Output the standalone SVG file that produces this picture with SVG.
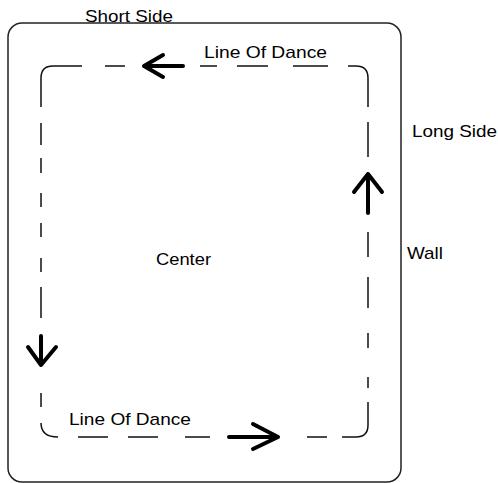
<svg xmlns="http://www.w3.org/2000/svg" width="498" height="483" viewBox="0 0 498 483">
  <style>
    .wall { fill: none; stroke: #222; stroke-width: 1.5; }
    .track { fill: none; stroke: #111; stroke-width: 1.5; stroke-linecap: butt; }
    .arrow { fill: none; stroke: #000; stroke-width: 4; stroke-linecap: round; stroke-linejoin: round; }
    .lbl { font-family: "Liberation Sans", Arial, sans-serif; font-size: 17px; fill: #000; }
  </style>
  <rect width="498" height="483" fill="#fff"/>
  <g id="wall">
    <rect class="wall" x="8" y="23" width="393" height="459" rx="14" ry="14"/>
  </g>
  <g id="track">
    <path class="track" d="M41,107 V78 Q41,66 53,66 H82 M105,66 H125 M200,66 H217 M237,66 H268 M293,66 H328 M348,66 H356 Q368,66 368,78 V107 M368,122 V157 M368,232 V257 M368,277 V308 M368,333 V348 M368,377 V388 M368,402 V425 Q368,437 356,437 H342 M327,437 H307 M210,437 H185 M158,437 H128 M108,437 H78 M58,437 Q41,437 41,423 M41,407 V393 M41,318 V287 M41,272 V258 M41,237 V223 M41,207 V193 M41,173 V158 M41,145 V123"/>
  </g>
  <g id="arrows">
    <g id="arrow-top"><path class="arrow" d="M183,66 H145 M163,55 L144,66 L163,77"/></g>
    <g id="arrow-right"><path class="arrow" d="M368,213 V174 M354,192 L368,174 L382,192"/></g>
    <g id="arrow-left"><path class="arrow" d="M41,336 V365 M28,347 L41,365 L56,347"/></g>
    <g id="arrow-bottom"><path class="arrow" d="M229,437 H278 M253,424 L278,437 L253,449"/></g>
  </g>
  <g id="labels">
    <text id="short-side" class="lbl" x="85" y="22" textLength="88" lengthAdjust="spacingAndGlyphs">Short Side</text>
    <text id="lod-top" class="lbl" x="204" y="58" textLength="123" lengthAdjust="spacingAndGlyphs">Line Of Dance</text>
    <text id="long-side" class="lbl" x="412" y="137" textLength="85" lengthAdjust="spacingAndGlyphs">Long Side</text>
    <text id="wall-label" class="lbl" x="407" y="259" textLength="36" lengthAdjust="spacingAndGlyphs">Wall</text>
    <text id="center" class="lbl" x="156" y="265" textLength="55" lengthAdjust="spacingAndGlyphs">Center</text>
    <text id="lod-bottom" class="lbl" x="69" y="425" textLength="122" lengthAdjust="spacingAndGlyphs">Line Of Dance</text>
  </g>
</svg>
